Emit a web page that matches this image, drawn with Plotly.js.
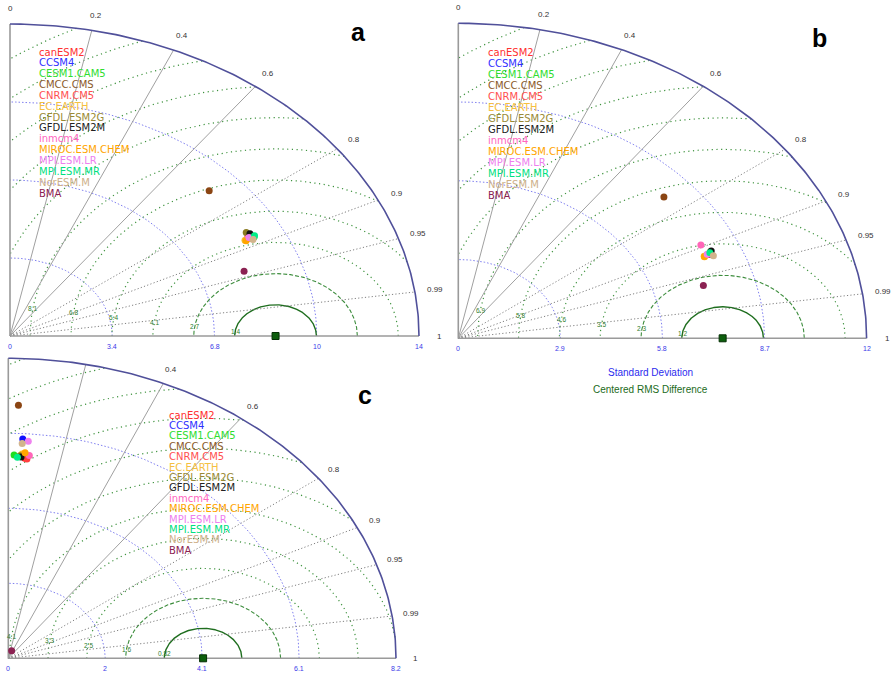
<!DOCTYPE html>
<html><head><meta charset="utf-8">
<script src="https://cdn.plot.ly/plotly-3.0.1.min.js"></script>
<style>html,body{margin:0;padding:0;background:#fff}</style>
</head><body><div id="chart" style="width:895px;height:674px"></div>
<script>
// ---------- data ----------
const models = ["canESM2","CCSM4","CESM1.CAM5","CMCC.CMS","CNRM.CM5","EC.EARTH","GFDL.ESM2G","GFDL.ESM2M","inmcm4","MIROC.ESM.CHEM","MPI.ESM.LR","MPI.ESM.MR","NorESM.M","BMA"];
const textColors = ["#ff3030","#3030ff","#30dd30","#8b5a2b","#ff5050","#f5c040","#9a8a35","#222222","#ff66c0","#ffa500","#ee80ee","#00e080","#cdb08a","#8b2252"];
const pointColors = ["#ff2020","#1010ff","#20dd20","#8b4513","#ff4040","#f5c030","#8a7a20","#111111","#ff66b8","#ffa500","#ee82ee","#00ee88","#d2b48c","#8b2252"];

// panel a : standard deviation and correlation of each model
const stdA  = [9.01, 9.07, 9.19, 9.16, 9.05, 8.86, 9.06, 9.14, 8.98, 8.88, 9.03, 9.23, 9.11, 8.28];
const corrA = [0.878,0.877,0.883,0.723,0.882,0.882,0.867,0.873,0.881,0.884,0.880,0.881,0.887,0.940];
const refA = 8.83;
const stdTicksA = [0, 3.4, 6.8, 10.2, 13.6];
const stdLabelsA = ["0","3.4","6.8","10","14"];
const rmsLabelsA = ["1.4","2.7","4.1","5.4","6.8","8.1"];

// panel b
const stdB  = [7.74, 7.77, 7.81, 7.82, 7.71, 7.61, 7.83, 7.87, 7.70, 7.61, 7.72, 7.81, 7.86, 7.23];
const corrB = [0.917,0.917,0.916,0.747,0.917,0.918,0.914,0.913,0.895,0.919,0.916,0.915,0.922,0.963];
const refB = 7.51;
const stdTicksB = [0, 2.9, 5.8, 8.7, 11.6];
const stdLabelsB = ["0","2.9","5.8","8.7","12"];
const rmsLabelsB = ["1.2","2.3","3.5","4.6","5.8","6.9"];

// panel c
const stdC  = [5.48, 6.00, 5.56, 6.92, 5.46, 5.59, 5.54, 5.51, 5.56, 5.63, 5.95, 5.50, 5.88, 0.22];
const corrC = [0.064,0.051,0.022,0.031,0.072,0.052,0.045,0.049,0.080,0.063,0.071,0.035,0.050,0.32];
const refC = 4.12;
const stdTicksC = [0, 2.05, 4.1, 6.15, 8.2];
const stdLabelsC = ["0","2","4.1","6.1","8.2"];
const rmsLabelsC = ["0.82","1.6","2.5","3.3","4.1"];

const corrTicks = [0, 0.2, 0.4, 0.6, 0.8, 0.9, 0.95, 0.99, 1];
const corrTickText = ["0","0.2","0.4","0.6","0.8","0.9","0.95","0.99","1"];
const radialSolid = [0.2, 0.4, 0.6];
const radialDotted = [0.8, 0.9, 0.95, 0.99];

// ---------- layout helpers ----------
const W = 895, H = 674;
const FONT = "Liberation Sans, Arial, Helvetica, sans-serif";
const LEGFONT = "DejaVu Sans, Liberation Sans, Arial, sans-serif";
const traces = [];
const annotations = [];
const layout = {width: W, height: H, margin: {l:0,r:0,t:0,b:0}, paper_bgcolor:"#fff", plot_bgcolor:"rgba(0,0,0,0)", showlegend:false, annotations: annotations};

function panel(cfg) {
  const s = cfg.suffix;
  const xa = "x" + s, ya = "y" + s;
  const R = cfg.stdTicks[cfg.stdTicks.length - 1];
  const sx = cfg.rx / R, sy = cfg.ry / R;
  const [px0, px1, py0, py1] = cfg.box;
  layout["xaxis" + s] = {domain:[px0/W, px1/W], range:[(px0-cfg.ox)/sx, (px1-cfg.ox)/sx], visible:false, fixedrange:true, anchor: ya};
  layout["yaxis" + s] = {domain:[1-py1/H, 1-py0/H], range:[(cfg.oy-py1)/sy, (cfg.oy-py0)/sy], visible:false, fixedrange:true, anchor: xa};
  const add = (t) => { t.xaxis = xa; t.yaxis = ya; t.hoverinfo = "skip"; traces.push(t); };
  const ann = (o) => { o.xref = xa; o.yref = ya; o.showarrow = false; o.borderpad = 0; annotations.push(o); };

  // std deviation circles (inner, dotted blue)
  let x = [], y = [];
  cfg.stdTicks.slice(1, -1).forEach(r => {
    for (let i = 0; i <= 90; i++) { const a = i*Math.PI/180; x.push(r*Math.cos(a)); y.push(r*Math.sin(a)); }
    x.push(null); y.push(null);
  });
  add({x, y, mode:"lines", line:{color:"#7f7ff0", width:1, dash:"1.5px,2px"}});

  // RMS circles about the reference
  const step = R / 10;
  for (let k = 1; k <= 13; k++) {
    const r = k*step; let xs = [], ys = [];
    for (let i = 0; i <= 720; i++) {
      const a = i*Math.PI/720;
      const xx = cfg.ref + r*Math.cos(a), yy = r*Math.sin(a);
      if (xx >= 0 && xx*xx + yy*yy <= R*R) { xs.push(xx); ys.push(yy); } else { xs.push(null); ys.push(null); }
    }
    const st = k === 1 ? {color:"#1f6e1f", width:1.4, dash:"solid"}
             : (k === 2 ? {color:"#3d8d3d", width:1.1, dash:"4px,2px"}
             : {color:"#3f933f", width:1.2, dash:"1.2px,3.5px"});
    add({x:xs, y:ys, mode:"lines", line:st, connectgaps:false});
  }

  // radial correlation lines
  [[radialSolid, "solid", "#a0a0a0"], [radialDotted, "1.2px,2.2px", "#808080"]].forEach(([list, dash, col]) => {
    let xs = [], ys = [];
    list.forEach(c => { xs.push(0, R*c, null); ys.push(0, R*Math.sqrt(1-c*c), null); });
    add({x:xs, y:ys, mode:"lines", line:{color:col, width:1, dash:dash}});
  });

  // axes
  add({x:[0, R, null, 0, 0], y:[0, 0, null, 0, R], mode:"lines", line:{color:"#9a9a9a", width:1.6}});
  // outer arc
  x = []; y = [];
  for (let i = 0; i <= 180; i++) { const a = i*Math.PI/360; x.push(R*Math.cos(a)); y.push(R*Math.sin(a)); }
  add({x, y, mode:"lines", line:{color:"#50509a", width:1.6}});

  // reference point
  add({x:[cfg.ref], y:[0], mode:"markers", marker:{symbol:"square", size:7, color:"#0d5e0d", line:{color:"#053005", width:1}}, cliponaxis:false});

  // model points
  const px = cfg.std.map((v, i) => v*cfg.corr[i]);
  const py = cfg.std.map((v, i) => v*Math.sqrt(1 - cfg.corr[i]*cfg.corr[i]));
  add({x:px, y:py, mode:"markers", marker:{size:7, color:pointColors, line:{width:0}}, cliponaxis:false});

  // correlation labels
  corrTicks.forEach((c, i) => {
    if (cfg.skipCorr && cfg.skipCorr.includes(c)) return;
    ann({x:1.05*R*c, y:1.05*R*Math.sqrt(1-c*c), text:corrTickText[i], font:{family:FONT, size:8, color:"#333"}, xanchor:"center", yanchor:"middle"});
  });
  // std labels
  cfg.stdTicks.forEach((v, i) => {
    ann({x:v, y:-10/sy, text:cfg.stdLabels[i], font:{family:FONT, size:7, color:"#3a3ae8"}, xanchor:"center", yanchor:"middle"});
  });
  // rms labels
  const th = 171.5*Math.PI/180;
  cfg.rmsLabels.forEach((t, i) => {
    const r = (i+1)*step;
    ann({x:cfg.ref + r*Math.cos(th), y:r*Math.sin(th), text:t, font:{family:FONT, size:6.5, color:"#2e7d2e"}, xanchor:"center", yanchor:"middle"});
  });
  // legend
  models.forEach((m, i) => {
    annotations.push({xref:"paper", yref:"paper", x:cfg.legX/W, y:1-(cfg.legY + i*cfg.legDy)/H, text:m, showarrow:false, borderpad:0, xanchor:"left", yanchor:"middle", font:{family:LEGFONT, size:10, color:textColors[i]}});
  });
  // panel letter
  annotations.push({xref:"paper", yref:"paper", x:cfg.letter[1]/W, y:1-cfg.letter[2]/H, text:"<b>"+cfg.letter[0]+"</b>", showarrow:false, xanchor:"center", yanchor:"middle", font:{family:FONT, size:25, color:"#000"}});
}

panel({suffix:"", box:[0,448,0,352], ox:10, oy:336, rx:409, ry:312, stdTicks:stdTicksA, stdLabels:stdLabelsA, rmsLabels:rmsLabelsA, ref:refA, std:stdA, corr:corrA, legX:38, legY:52, legDy:10.85, letter:["a",358,32]});
panel({suffix:"2", box:[450,895,0,352], ox:458.3, oy:338.3, rx:408.3, ry:315, stdTicks:stdTicksB, stdLabels:stdLabelsB, rmsLabels:rmsLabelsB, ref:refB, std:stdB, corr:corrB, legX:486.5, legY:52.7, legDy:11.0, letter:["b",819,38]});
panel({suffix:"3", box:[0,448,352,674], ox:8.3, oy:658.3, rx:387.7, ry:300, stdTicks:stdTicksC, stdLabels:stdLabelsC, rmsLabels:rmsLabelsC, ref:refC, std:stdC, corr:corrC, legX:168.3, legY:415, legDy:10.4, letter:["c",365,395], skipCorr:[0, 0.2]});

annotations.push({xref:"paper", yref:"paper", x:650/W, y:1-373/H, text:"Standard Deviation", showarrow:false, xanchor:"center", yanchor:"middle", font:{family:FONT, size:10, color:"#2b2bee"}});
annotations.push({xref:"paper", yref:"paper", x:650/W, y:1-389/H, text:"Centered RMS Difference", showarrow:false, xanchor:"center", yanchor:"middle", font:{family:FONT, size:10, color:"#1b6b1b"}});

Plotly.newPlot("chart", traces, layout, {displayModeBar:false, staticPlot:true});
</script></body></html>
